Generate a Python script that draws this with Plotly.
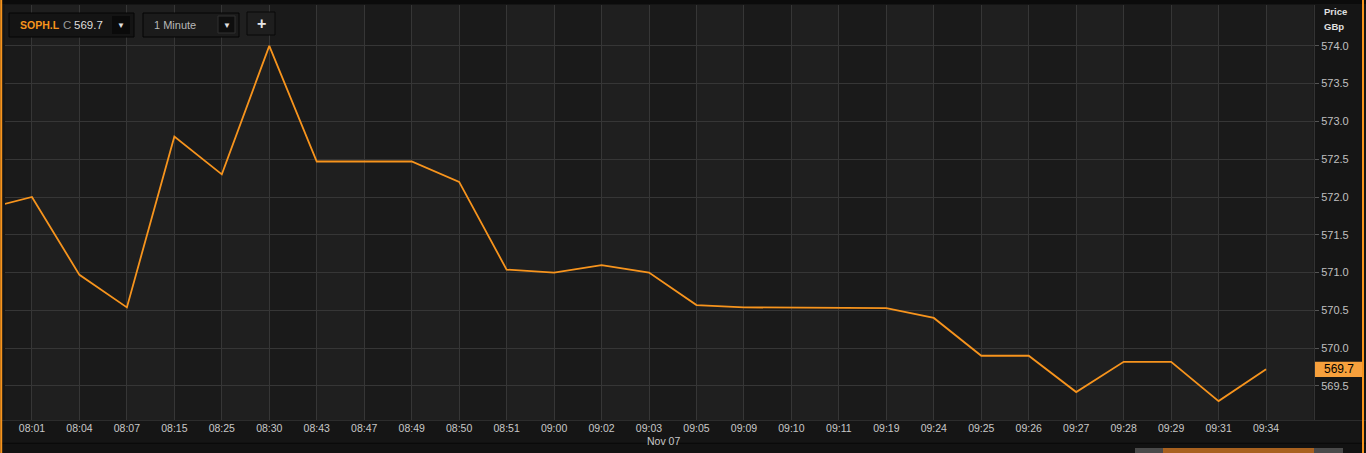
import plotly.graph_objects as go

# ---- data ----
times = ["08:00", "08:01", "08:04", "08:07", "08:15", "08:25", "08:30", "08:43",
         "08:47", "08:49", "08:50", "08:51", "09:00", "09:02", "09:03", "09:05",
         "09:09", "09:10", "09:11", "09:19", "09:24", "09:25", "09:26", "09:27",
         "09:28", "09:29", "09:31", "09:34"]
prices = [571.84, 572.0, 570.97, 570.54, 572.8, 572.3, 574.0, 572.47,
          572.47, 572.47, 572.2, 571.04, 571.0, 571.1, 571.0, 570.57,
          570.54, 570.54, 570.54, 570.53, 570.4, 569.9, 569.9, 569.42,
          569.82, 569.82, 569.3, 569.72]
y_ticks = [569.5, 570.0, 570.5, 571.0, 571.5, 572.0, 572.5, 573.0, 573.5, 574.0]
symbol = "SOPH.L"
close_label = "569.7"
interval = "1 Minute"
date_label = "Nov 07"

# ---- geometry ----
W, H = 1366, 453
L, R, T, B = 5, 52, 5, 33
PW, PH = W - L - R, H - T - B
ORANGE = "#f7941d"
FONT = "Liberation Sans, Arial, sans-serif"


def px(x):
    return (x - L) / PW


def py(y):
    return 1 - (y - T) / PH


fig = go.Figure()
fig.add_trace(go.Scatter(
    x=times, y=prices, mode="lines",
    line=dict(color=ORANGE, width=1.8),
    hoverinfo="skip", showlegend=False,
))

shapes = []
annotations = []

# alternating vertical bands
for i in range(1, len(times) - 1, 2):
    shapes.append(dict(type="rect", xref="x", yref="paper", x0=times[i], x1=times[i + 1],
                       y0=0, y1=1, fillcolor="#1f1f1f", line=dict(width=0), layer="below"))
shapes.append(dict(type="rect", xref="x", yref="paper", x0=len(times) - 1, x1=len(times),
                   y0=0, y1=1, fillcolor="#1f1f1f", line=dict(width=0), layer="below"))


def rect(x0, y0, x1, y1, fill, line="rgba(0,0,0,0)", lw=1):
    shapes.append(dict(type="rect", xref="paper", yref="paper",
                       x0=px(x0), x1=px(x1), y0=py(y1), y1=py(y0),
                       fillcolor=fill, line=dict(color=line, width=lw), layer="above"))


def hline(x0, x1, y, color, lw=1):
    shapes.append(dict(type="line", xref="paper", yref="paper",
                       x0=px(x0), x1=px(x1), y0=py(y), y1=py(y),
                       line=dict(color=color, width=lw), layer="above"))


def vline(x, y0, y1, color, lw=1):
    shapes.append(dict(type="line", xref="paper", yref="paper",
                       x0=px(x), x1=px(x), y0=py(y0), y1=py(y1),
                       line=dict(color=color, width=lw), layer="above"))


def text(x, y, s, color="#c8c8c8", size=11, xanchor="left", bold=False):
    if bold:
        s = "<b>" + s + "</b>"
    annotations.append(dict(xref="paper", yref="paper", x=px(x), y=py(y), text=s,
                            showarrow=False, xanchor=xanchor, yanchor="middle",
                            font=dict(color=color, size=size, family=FONT)))


# top dark strip
rect(0, 0, W, 4, "#0b0b0b")
# bottom axis strip lines
hline(0, W, 420.5, "#2c2c2c")
hline(0, W, 443.5, "#0a0a0a", 1.5)
rect(0, 444, W, H, "#121212")
# navigator
rect(1163, 448, 1314, H + 2, "#a8611f")
rect(1135, 448, 1163, H + 2, "#4a4a4a")
rect(1314, 448, 1343, H + 2, "#4a4a4a")
# frame borders
vline(1.2, 0, H, ORANGE, 2)
vline(1363, 0, H, ORANGE, 2)

# controls
rect(9, 13, 134, 37, "#141414", "#050505")
rect(112, 16, 130, 34, "#0a0a0a")
text(18, 25, symbol, ORANGE, 10.5, bold=True)
text(61, 25, "C", "#9a9a9a", 11.5)
text(72, 25, close_label, "#dddddd", 11.5)
text(121, 25, "▼", "#e0e0e0", 8, xanchor="center")

rect(143, 13, 239, 37, "#1b1b1b", "#050505")
rect(218, 16, 235, 33, "#0e0e0e", "#303030")
text(152, 25, interval, "#b8b8b8", 11)
text(226.5, 25, "▼", "#e0e0e0", 8, xanchor="center")

rect(247, 12, 275, 35, "#1e1e1e", "#080808")
text(261, 23, "+", "#e6e6e6", 16, xanchor="center", bold=True)

# right axis header
text(1322, 11, "Price", "#e0e0e0", 9.5, bold=True)
text(1322, 26, "GBp", "#e0e0e0", 9.5, bold=True)

# date label
text(663, 441, date_label, "#c8c8c8", 10.5, xanchor="center")

# last price marker (tied to data)
last = prices[-1]
shapes.append(dict(type="rect", xref="paper", yref="y", x0=px(1315), x1=px(1362),
                   y0=last - 0.1, y1=last + 0.1, fillcolor="#f7a03c",
                   line=dict(width=0), layer="above"))
annotations.append(dict(xref="paper", yref="y", x=px(1338.5), y=last, text=close_label,
                        showarrow=False, xanchor="center", yanchor="middle",
                        font=dict(color="#000000", size=12, family=FONT)))

fig.update_layout(
    width=W, height=H,
    margin=dict(l=L, r=R, t=T, b=B, autoexpand=False),
    paper_bgcolor="#151515",
    plot_bgcolor="#1a1a1a",
    showlegend=False,
    shapes=shapes,
    annotations=annotations,
    xaxis=dict(
        type="category", categoryorder="array", categoryarray=times,
        range=[0.432, 28.01], showgrid=True, gridcolor="#363636", gridwidth=1,
        zeroline=False, showline=False, ticks="",
        tickfont=dict(color="#c8c8c8", size=10.5, family=FONT),
        fixedrange=True,
    ),
    yaxis=dict(
        side="right", range=[569.05, 574.54], tickvals=y_ticks,
        tickformat=".1f", showgrid=True, gridcolor="#363636", gridwidth=1,
        zeroline=False, showline=True, linecolor="#333333",
        ticks="outside", ticklen=4, tickcolor="#555555",
        tickfont=dict(color="#c0c0c0", size=11, family=FONT),
        fixedrange=True,
    ),
)

fig.write_html("out.html", config={"displayModeBar": False},
               post_script="document.body.style.margin='0';document.body.style.background='#151515';")
